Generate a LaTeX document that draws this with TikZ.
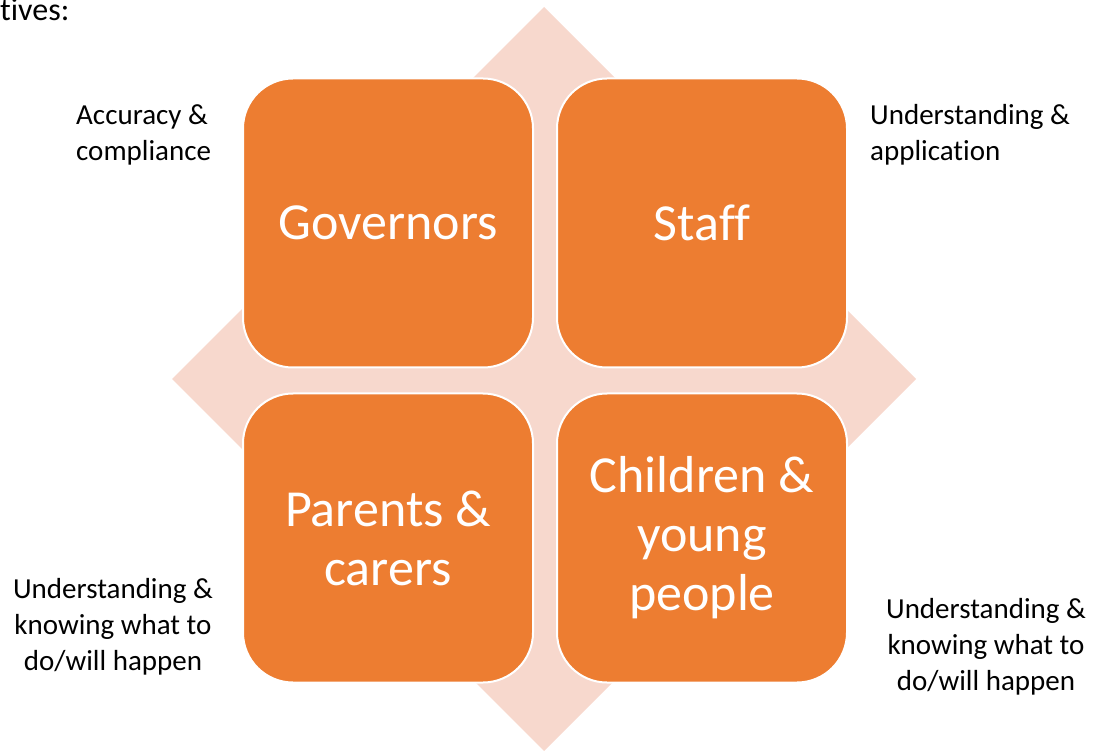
\documentclass[tikz,border=0pt]{standalone}
\usepackage{fontspec}
\setmainfont[Ligatures=NoCommon]{Carlito}
\usetikzlibrary{positioning}
\definecolor{boxorange}{HTML}{ED7D31}
\definecolor{diamondpink}{HTML}{F7D8CD}
\tikzset{
  group/.style={rectangle, rounded corners=50pt, fill=boxorange, draw=white,
    line width=2pt, minimum width=290pt, minimum height=289pt,
    text=white, align=center, font=\fontsize{52}{59}\selectfont},
  aim/.style={inner sep=0pt, font=\fontsize{29}{36}\selectfont}
}
\begin{document}
\begin{tikzpicture}[x=1pt,y=-1pt]
  \useasboundingbox (0,0) rectangle (1093,751);
  \fill[diamondpink] (544,7) -- (916,379) -- (544,751) -- (172,379) -- cycle;
  \node[group] (gov) at (388,223) {Governors};
  \node[group, right=22pt of gov] (staff) {Staff};
  \node[group, below=24pt of gov] (parents) {Parents \&\\carers};
  \node[group, below=24pt of staff] (children) {Children \&\\young\\people};
  \node[aim, font=\fontsize{32}{38}\selectfont, anchor=base west] (intro) at (0,21) {tives:};
  \node[aim, align=left, anchor=west] (govaim) at (76,135) {Accuracy \&\\compliance};
  \node[aim, align=left, anchor=west] (staffaim) at (870,135) {Understanding \&\\application};
  \node[aim, align=center] (parentsaim) at (113,627) {Understanding \&\\knowing what to\\do/will happen};
  \node[aim, align=center] (childrenaim) at (986,647) {Understanding \&\\knowing what to\\do/will happen};
\end{tikzpicture}
\end{document}
